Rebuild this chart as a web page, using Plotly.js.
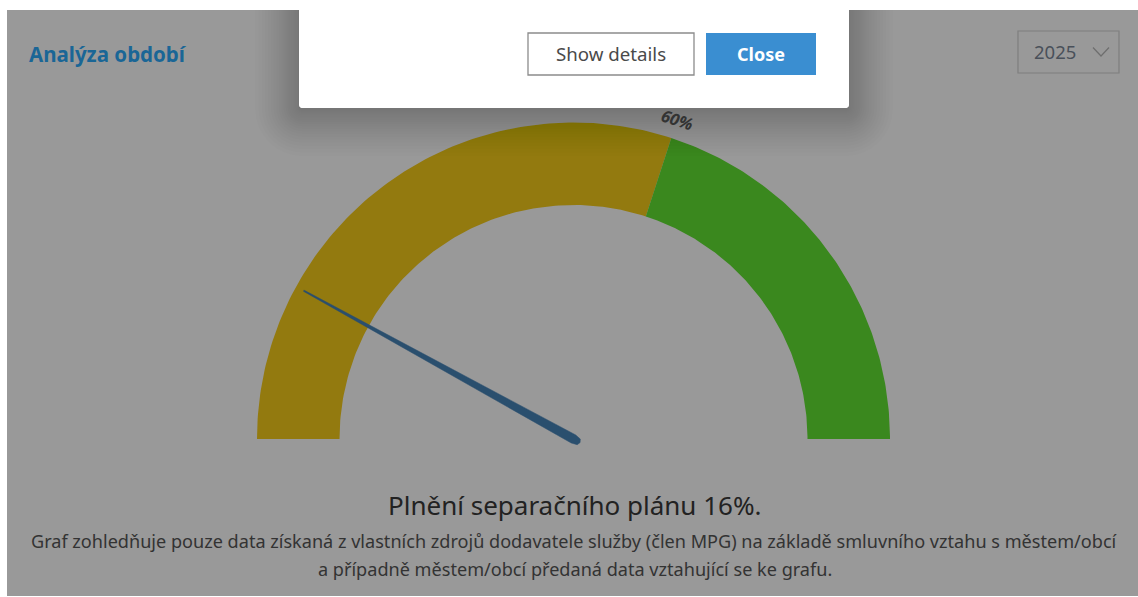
<!DOCTYPE html>
<html>
<head>
<meta charset="utf-8">
<script src="https://cdn.plot.ly/plotly-3.0.1.min.js"></script>
<style>
html,body{margin:0;padding:0;background:#fff;}
#chart{width:1138px;height:597px;}
</style>
</head>
<body>
<div id="chart"></div>
<script>
// ---- data ----
const gaugeMin = 0;
const gaugeMax = 100;
const bandStarts = [0, 60];
const bandEnds = [60, 100];
const bandColors = ['#937a0f', '#3a881e'];
const thresholdLabels = ['60%'];
const thresholdValues = [60];
const needleValue = 16;
const pageTitle = 'Analýza období';
const yearOptions = ['2025'];
const headline = 'Plnění separačního plánu 16%.';
const noteLines = [
  'Graf zohledňuje pouze data získaná z vlastních zdrojů dodavatele služby (člen MPG) na základě smluvního vztahu s městem/obcí',
  'a případně městem/obcí předaná data vztahující se ke grafu.'
];
const buttonLabels = ['Show details', 'Close'];

// ---- geometry (layout constants, px) ----
const W = 1138, H = 597;
const CX = 573.5, CY = 439;     // gauge centre in page px
const R_OUT = 316.5, R_IN = 234;
const FONT = 'Noto Sans, Open Sans, sans-serif';

function ang(v){ return Math.PI * (1 - (v - gaugeMin) / (gaugeMax - gaugeMin)); }
function px(x){ return x / W; }
function py(y){ return 1 - y / H; }

const traces = [];
for (let i = 0; i < bandStarts.length; i++) {
  const xs = [], ys = [];
  const n = 120;
  for (let k = 0; k <= n; k++) {
    const a = ang(bandStarts[i] + (bandEnds[i] - bandStarts[i]) * k / n);
    xs.push(R_OUT * Math.cos(a)); ys.push(R_OUT * Math.sin(a));
  }
  for (let k = n; k >= 0; k--) {
    const a = ang(bandStarts[i] + (bandEnds[i] - bandStarts[i]) * k / n);
    xs.push(R_IN * Math.cos(a)); ys.push(R_IN * Math.sin(a));
  }
  traces.push({type:'scatter', mode:'lines', x:xs, y:ys, fill:'toself',
    fillcolor:bandColors[i], line:{width:0, color:bandColors[i]}, hoverinfo:'skip', showlegend:false});
}

// needle
(function(){
  const a = ang(needleValue);
  const ux = Math.cos(a), uy = Math.sin(a), wx = -uy, wy = ux;
  const local = [[308,0.6],[0,4.6],[-6,3.2],[-7.5,0],[-6,-3.2],[0,-4.6],[308,-0.6]];
  const xs = local.map(p => p[0]*ux + p[1]*wx);
  const ys = local.map(p => p[0]*uy + p[1]*wy);
  traces.push({type:'scatter', mode:'lines', x:xs, y:ys, fill:'toself',
    fillcolor:'#2a4f6e', line:{width:0.5, color:'#2a4f6e'}, hoverinfo:'skip', showlegend:false});
})();

const annotations = [];
// threshold labels
thresholdValues.forEach((v, i) => {
  const a = ang(v);
  const r = R_OUT + 19;
  annotations.push({x: r*Math.cos(a), y: r*Math.sin(a), xref:'x', yref:'y',
    text:'<b><i>'+thresholdLabels[i]+'</i></b>', showarrow:false,
    textangle: 90 - a*180/Math.PI, font:{family:FONT, size:16.5, color:'#333'}});
});

annotations.push({x:px(27), y:py(54), xref:'paper', yref:'paper', xanchor:'left', yanchor:'middle',
  text:'<b>'+pageTitle+'</b>', showarrow:false, font:{family:FONT, size:20.5, color:'#1a6696'}});
annotations.push({x:px(1055), y:py(52), xref:'paper', yref:'paper', xanchor:'center', yanchor:'middle',
  text:yearOptions[0], showarrow:false, font:{family:FONT, size:18.5, color:'#49505a'}});
annotations.push({x:px(CX+1), y:py(505), xref:'paper', yref:'paper', xanchor:'center', yanchor:'middle',
  text:headline, showarrow:false, font:{family:FONT, size:26, color:'#222'}});
annotations.push({x:px(CX+1), y:py(541), xref:'paper', yref:'paper', xanchor:'center', yanchor:'middle',
  text:noteLines[0], showarrow:false, font:{family:FONT, size:18.1, color:'#333'}});
annotations.push({x:px(CX+1), y:py(569), xref:'paper', yref:'paper', xanchor:'center', yanchor:'middle',
  text:noteLines[1], showarrow:false, font:{family:FONT, size:18.1, color:'#333'}});
annotations.push({x:px(611), y:py(54), xref:'paper', yref:'paper', xanchor:'center', yanchor:'middle',
  text:buttonLabels[0], showarrow:false, font:{family:FONT, size:18.7, color:'#4a4a4a'}});
annotations.push({x:px(761), y:py(54), xref:'paper', yref:'paper', xanchor:'center', yanchor:'middle',
  text:'<b>'+buttonLabels[1]+'</b>', showarrow:false, font:{family:FONT, size:18, color:'#ffffff'}});

const shapes = [];
function rect(x0,y0,x1,y1,fill,line,layer){
  shapes.push({type:'rect', xref:'paper', yref:'paper', x0:px(x0), x1:px(x1), y0:py(y1), y1:py(y0),
    fillcolor:fill, line:line || {width:0}, layer:layer||'above'});
}
function rrect(x0,y0,x1,y1,r,fill){
  const p = (x,y) => px(x)+','+py(y);
  const n = 8;
  let d = 'M' + p(x0+r, y0) + ' L' + p(x1-r, y0);
  const corner = (cx, cy, a0) => { let s=''; for (let k=1;k<=n;k++){ const a=a0+Math.PI/2*k/n; s+=' L'+p(cx+r*Math.cos(a), cy+r*Math.sin(a)); } return s; };
  d += corner(x1-r, y0+r, -Math.PI/2);
  d += ' L' + p(x1, y1-r);
  d += corner(x1-r, y1-r, 0);
  d += ' L' + p(x0+r, y1);
  d += corner(x0+r, y1-r, Math.PI/2);
  d += ' L' + p(x0, y0+r);
  d += corner(x0+r, y0+r, Math.PI);
  d += ' Z';
  shapes.push({type:'path', xref:'paper', yref:'paper', path:d, fillcolor:fill, line:{width:0}, layer:'above'});
}
// dimmed page background
rect(7,10,1138,596,'#999999',null,'below');
// modal shadow (soft, layered, denser near the edge)
const NS = 22;
for (let k = NS; k >= 1; k--) {
  const e = 44 * Math.pow(k/NS, 1.7);
  rrect(299-e, -20-e, 849+e, 110+e*1.05, e+3, 'rgba(0,0,0,0.0085)');
}
// white page strip above the dimmed area
rect(0,0,1138,10,'#ffffff');
// modal
rrect(299,-10,849,108,3,'#ffffff');
// buttons
rect(528,33,694,75,'#ffffff',{width:1.3,color:'#8c8c8c'});
rect(706,33,816,75,'#3a8ed1',{width:0});
// dropdown
rect(1018,31,1119,73,'rgba(0,0,0,0)',{width:1.2,color:'#7f7f7f'},'below');
shapes.push({type:'path', xref:'paper', yref:'paper',
  path:'M'+px(1093)+','+py(47.5)+' L'+px(1101)+','+py(56)+' L'+px(1109)+','+py(47.5),
  line:{width:1.2,color:'#6e6e6e'}, layer:'above'});

const layout = {
  width: W, height: H,
  margin:{l:0,r:0,t:0,b:0},
  paper_bgcolor:'#ffffff', plot_bgcolor:'rgba(0,0,0,0)',
  showlegend:false,
  xaxis:{range:[-CX, W-CX], visible:false, fixedrange:true},
  yaxis:{range:[-(H-CY), CY], visible:false, fixedrange:true},
  shapes: shapes,
  annotations: annotations
};
Plotly.newPlot('chart', traces, layout, {displayModeBar:false, staticPlot:true});
</script>
</body>
</html>
